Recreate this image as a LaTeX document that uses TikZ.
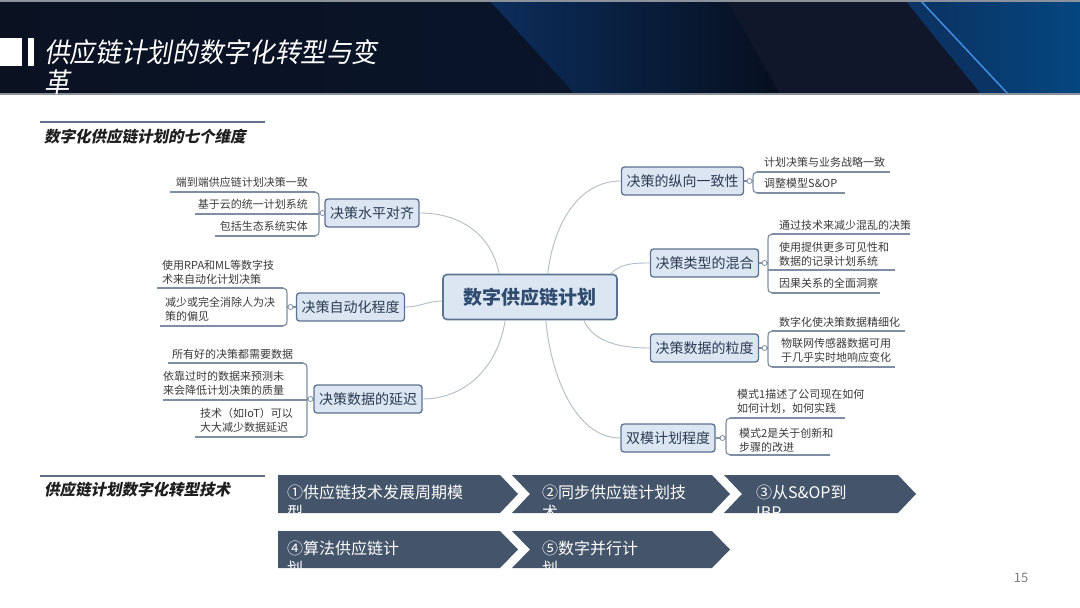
\documentclass[tikz,border=0pt]{standalone}
\usepackage{fontspec}
\setmainfont{Noto Sans CJK SC}
\newfontfamily\slantfont{Noto Sans CJK SC}[FakeSlant=0.2]
\newfontfamily\titlefont{Noto Sans CJK SC}[FakeSlant=0.18,FakeStretch=0.95]
\definecolor{hdrA}{HTML}{0A1222}
\definecolor{hdrB}{HTML}{0B1730}
\definecolor{hdrC}{HTML}{0C2D5C}
\definecolor{hdrC2}{HTML}{060F1E}
\definecolor{hdrD}{HTML}{10172A}
\definecolor{hdrE}{HTML}{0B3363}
\definecolor{hdrF}{HTML}{04467F}
\definecolor{hdrLine}{HTML}{3F8FE0}
\definecolor{hdrGray}{HTML}{8C929B}
\definecolor{nodefill}{HTML}{DCE6F2}
\definecolor{nodeborder}{HTML}{5B7291}
\definecolor{nodetext}{HTML}{2B3B52}
\definecolor{hubtext}{HTML}{2F4B70}
\definecolor{subtext}{HTML}{3A3A3A}
\definecolor{subline}{HTML}{7F8FA3}
\definecolor{connc}{HTML}{B4BCC6}
\definecolor{chev}{HTML}{44546A}
\definecolor{headline}{HTML}{5E7184}
\definecolor{headtext}{HTML}{1E1E1E}
\newcommand\brkL[6]{%
  \draw[subl] (#1,#2) .. controls ({#1+3},#2) and ({#1+4},{#2+2}) .. ({#1+4},{#2+6}) -- ({#1+4},{#3-6}) .. controls ({#1+4},{#3-2}) and ({#1+3},#3) .. (#1,#3);
  \node[knob] (#5) at ({#1+7.5},#4) {};
  \draw[subl] ({#1+4},#4) -- (#5);
  \draw[subl] (#5) -- (#6.west);
}
\newcommand\brkR[6]{%
  \draw[subl] (#1,#2) .. controls ({#1-3},#2) and ({#1-4},{#2+2}) .. ({#1-4},{#2+6}) -- ({#1-4},{#3-6}) .. controls ({#1-4},{#3-2}) and ({#1-3},#3) .. (#1,#3);
  \node[knob] (#5) at ({#1-7.5},#4) {};
  \draw[subl] ({#1-4},#4) -- (#5);
  \draw[subl] (#5) -- (#6.east);
}
\begin{document}
\begin{tikzpicture}[x=1pt,y=-1pt,
  branch/.style={draw=nodeborder,line width=1.3pt,fill=nodefill,rounded corners=3pt,minimum height=28pt,inner xsep=5pt,inner ysep=0pt,font=\fontsize{14}{16}\selectfont,text=nodetext},
  hubbox/.style={draw=nodeborder,line width=1.6pt,fill=nodefill,rounded corners=4pt,minimum width=174pt,minimum height=45pt,font=\fontsize{19}{22}\selectfont\bfseries,text=hubtext},
  subtxt/.style={inner sep=0pt,font=\fontsize{11}{14}\selectfont,text=subtext},
  subl/.style={draw=subline,line width=1.2pt},
  conn/.style={draw=connc,line width=0.9pt},
  knob/.style={circle,draw=subline,fill=white,line width=0.8pt,inner sep=0pt,minimum size=5pt},
  chevtxt/.style={inner sep=0pt,anchor=north west,align=left,font=\fontsize{16}{20}\selectfont,text=white},
  headtxt/.style={inner sep=0pt,anchor=west,font=\slantfont\bfseries\fontsize{15.5}{18}\selectfont,text=headtext},
]
\useasboundingbox (0,0) rectangle (1080,608);
\fill[white] (0,0) rectangle (1080,608);
% header
\shade[left color=hdrA,right color=hdrB] (0,0) rectangle (1080,94);
\shade[left color=hdrC,right color=hdrC2] (489,0) -- (727,0) -- (780,94) -- (575,94) -- cycle;
\fill[hdrD] (727,0) -- (905,0) -- (981,94) -- (780,94) -- cycle;
\fill[hdrE] (905,0) -- (920,0) -- (1008,94) -- (981,94) -- cycle;
\shade[left color=hdrE,right color=hdrF] (920,0) -- (1080,0) -- (1080,94) -- (1008,94) -- cycle;
\draw[hdrLine,line width=1.5pt] (920,0) -- (1008,94);
\fill[hdrGray] (0,0) rectangle (1080,2);
\fill[hdrGray] (0,93) rectangle (1080,95);
\fill[white] (0,38) rectangle (22,66);
\fill[white] (28,38) rectangle (34,66);
\node[inner sep=0pt,anchor=north west,align=left,text=white,font=\titlefont\fontsize{27}{30}\selectfont] (title) at (44,39) {供应链计划的数字化转型与变\\革};
% section headings
\draw[headline,line width=2pt] (40,122) -- (265,122);
\node[headtxt] (h1) at (44,137) {数字化供应链计划的七个维度};
\draw[headline,line width=2pt] (40,476) -- (265,476);
\node[headtxt] (h2) at (44,490) {供应链计划数字化转型技术};
% hub and branches
\node[hubbox] (c) at (530,297) {数字供应链计划};
\node[branch] (n1) at (372,213) {决策水平对齐};
\node[branch] (n2) at (350.5,307) {决策自动化程度};
\node[branch] (n3) at (368,399) {决策数据的延迟};
\node[branch] (n4) at (682.5,181) {决策的纵向一致性};
\node[branch] (n5) at (704.5,263) {决策类型的混合};
\node[branch] (n6) at (704.5,348) {决策数据的粒度};
\node[branch] (n7) at (668,438) {双模计划程度};
% connectors hub -> branches
\draw[conn] ([xshift=57pt]c.north west) .. controls +(-8,-40) and +(40,0) .. (n1.east);
\draw[conn] ([yshift=-4pt]c.west) .. controls +(-15,0) and +(15,0) .. (n2.east);
\draw[conn] ([xshift=63pt]c.south west) .. controls +(-8,50) and +(40,0) .. (n3.east);
\draw[conn] ([xshift=-70pt]c.north east) .. controls +(5,-45) and +(-45,0) .. (n4.west);
\draw[conn] ([xshift=-7pt]c.north east) .. controls +(10,-10) and +(-18,0) .. (n5.west);
\draw[conn] ([xshift=-34pt]c.south east) .. controls +(10,22) and +(-30,0) .. (n6.west);
\draw[conn] ([xshift=-72pt]c.south east) .. controls +(5,55) and +(-45,0) .. (n7.west);
% left branch 1 items
\node[subtxt,anchor=east] (s11) at (308,182) {端到端供应链计划决策一致};
\node[subtxt,anchor=east] (s12) at (308,204) {基于云的统一计划系统};
\node[subtxt,anchor=east] (s13) at (308,226) {包括生态系统实体};
\draw[subl] (170,192) -- (315,192);
\draw[subl] (195,214) -- (319,214);
\draw[subl] (215,236) -- (315,236);
\brkL{315}{192}{236}{213}{k1}{n1}
% left branch 2 items
\node[subtxt,anchor=west,align=left] (s21) at (162,272) {使用RPA和ML等数字技\\术来自动化计划决策};
\node[subtxt,anchor=west,align=left] (s22) at (165,309) {减少或完全消除人为决\\策的偏见};
\draw[subl] (157,288) -- (283,288);
\draw[subl] (160,326) -- (283,326);
\brkL{283}{288}{326}{307}{k2}{n2}
% left branch 3 items
\node[subtxt,anchor=west] (s31) at (172,354) {所有好的决策都需要数据};
\node[subtxt,anchor=west,align=left] (s32) at (163,383) {依靠过时的数据来预测未\\来会降低计划决策的质量};
\node[subtxt,anchor=west,align=left] (s33) at (200,420) {技术（如IoT）可以\\大大减少数据延迟};
\draw[subl] (168,363) -- (303,363);
\draw[subl] (163,400) -- (307,400);
\draw[subl] (195,437) -- (303,437);
\brkL{303}{363}{437}{399}{k3}{n3}
% right branch 4 items
\node[subtxt,anchor=west] (s41) at (764,162) {计划决策与业务战略一致};
\node[subtxt,anchor=west] (s42) at (764,183) {调整模型S\&OP};
\draw[subl] (757,172) -- (890,172);
\draw[subl] (757,193) -- (845,193);
\brkR{757}{172}{193}{181}{k4}{n4}
% right branch 5 items
\node[subtxt,anchor=west] (s51) at (779,225) {通过技术来减少混乱的决策};
\node[subtxt,anchor=west,align=left] (s52) at (779,254) {使用提供更多可见性和\\数据的记录计划系统};
\node[subtxt,anchor=west] (s53) at (779,283) {因果关系的全面洞察};
\draw[subl] (772,234) -- (910,234);
\draw[subl] (768,270) -- (895,270);
\draw[subl] (772,293) -- (880,293);
\brkR{772}{234}{293}{263}{k5}{n5}
% right branch 6 items
\node[subtxt,anchor=west] (s61) at (779,322) {数字化使决策数据精细化};
\node[subtxt,anchor=west,align=left] (s62) at (781,350) {物联网传感器数据可用\\于几乎实时地响应变化};
\draw[subl] (772,331) -- (905,331);
\draw[subl] (772,367) -- (895,367);
\brkR{772}{331}{367}{348}{k6}{n6}
% right branch 7 items
\node[subtxt,anchor=west,align=left] (s71) at (737,401) {模式1描述了公司现在如何\\如何计划，如何实践};
\node[subtxt,anchor=west,align=left] (s72) at (739,440) {模式2是关于创新和\\步骤的改进};
\draw[subl] (730,418) -- (845,418);
\draw[subl] (730,455) -- (830,455);
\brkR{730}{418}{455}{438}{k7}{n7}
% chevrons
\fill[chev] (278,475) -- (500,475) -- (518,494) -- (500,513) -- (278,513) -- cycle;
\fill[chev] (512,475) -- (712,475) -- (730,494) -- (712,513) -- (512,513) -- (530,494) -- cycle;
\fill[chev] (724,475) -- (898,475) -- (916,494) -- (898,513) -- (724,513) -- (742,494) -- cycle;
\fill[chev] (278,531) -- (500,531) -- (518,549.5) -- (500,568) -- (278,568) -- cycle;
\fill[chev] (512,531) -- (712,531) -- (730,549.5) -- (712,568) -- (512,568) -- (530,549.5) -- cycle;
\node[chevtxt] (t1) at (287,485) {①供应链技术发展周期模\\型};
\node[chevtxt] (t2) at (542,485) {②同步供应链计划技\\术};
\node[chevtxt] (t3) at (756,485) {③从S\&OP到\\IBP};
\node[chevtxt] (t4) at (287,541) {④算法供应链计\\划};
\node[chevtxt] (t5) at (542,541) {⑤数字并行计\\划};
% page number
\node[inner sep=0pt,text=black!50,font=\fontsize{13}{15}\selectfont] (pg) at (1021,578) {15};
\end{tikzpicture}
\end{document}
